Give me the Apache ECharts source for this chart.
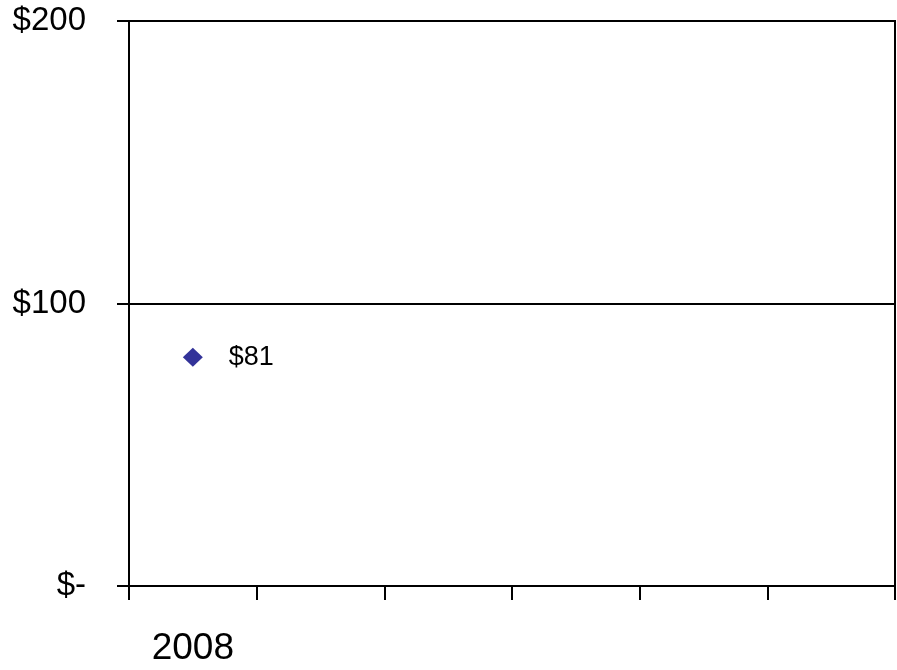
<!DOCTYPE html>
<html>
<head>
<meta charset="utf-8">
<script src="https://cdn.jsdelivr.net/npm/echarts@6/dist/echarts.min.js"></script>
<style>
  html, body { margin: 0; padding: 0; background: #fff; }
  #chart { width: 897px; height: 670px; }
</style>
</head>
<body>
<div id="chart"></div>
<script>
// Year slots along the x axis; only the first one holds a value
const categories = ['2008', '', '', '', '', ''];
const prices = [81, null, null, null, null, null];
const yTicks = { min: 0, max: 200, interval: 100 };

const money = v => (v === 0 ? '$-' : '$' + v);

const chart = echarts.init(document.getElementById('chart'));
chart.setOption({
  animation: false,
  grid: {
    left: 129, right: 2, top: 21, bottom: 84,
    show: true, borderColor: '#000', borderWidth: 2, backgroundColor: 'transparent'
  },
  xAxis: {
    type: 'category',
    data: categories,
    boundaryGap: true,
    axisLine: { lineStyle: { color: '#000', width: 2 } },
    axisTick: { show: true, alignWithLabel: false, length: 14, lineStyle: { color: '#000', width: 2 } },
    axisLabel: {
      interval: 0, margin: 44, color: '#000',
      fontFamily: 'Liberation Sans', fontSize: 37
    },
    splitLine: { show: false }
  },
  yAxis: {
    type: 'value',
    min: yTicks.min, max: yTicks.max, interval: yTicks.interval,
    axisLine: { show: true, lineStyle: { color: '#000', width: 2 } },
    axisTick: { show: true, length: 12, lineStyle: { color: '#000', width: 2 } },
    axisLabel: {
      formatter: money, margin: 43, color: '#000',
      fontFamily: 'Liberation Sans', fontSize: 33
    },
    splitLine: { show: true, lineStyle: { color: '#000', width: 2 } }
  },
  series: [{
    type: 'scatter',
    data: prices,
    symbol: 'diamond',
    symbolSize: [20, 19],
    itemStyle: { color: '#333399', opacity: 1 },
    label: {
      show: true, position: 'right', distance: 26,
      formatter: p => money(p.value),
      color: '#000', fontFamily: 'Liberation Sans', fontSize: 27
    }
  }]
});
</script>
</body>
</html>
